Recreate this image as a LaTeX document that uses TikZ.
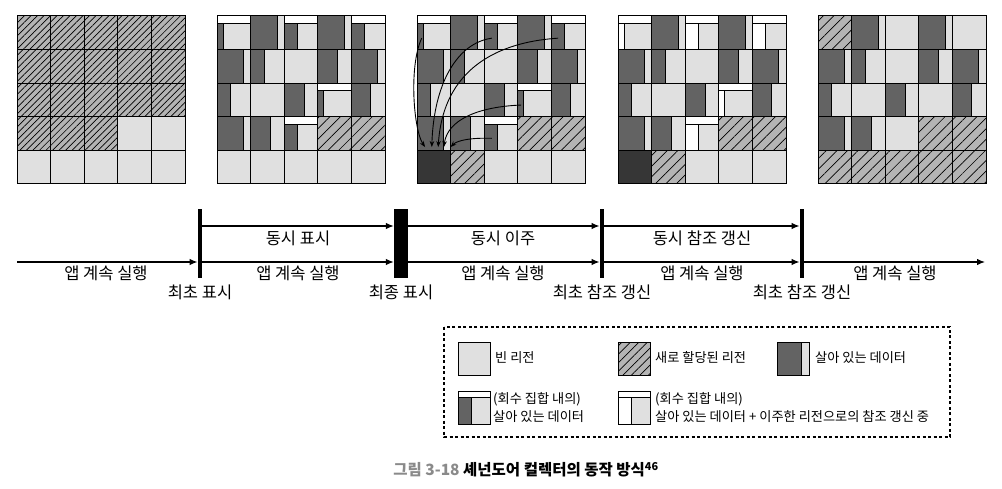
\documentclass[tikz,border=0pt]{standalone}
\usepackage{fontspec}
\setmainfont{Noto Sans CJK KR}
\usetikzlibrary{patterns.meta,arrows.meta,calc}

\definecolor{emptygray}{HTML}{E0E0E0}
\definecolor{livegray}{HTML}{636363}
\definecolor{hatchgray}{HTML}{B4B4B4}
\definecolor{destgray}{HTML}{363636}
\definecolor{capgray}{HTML}{8A8A8A}

\newcommand\hatchgap{7.5pt}
\newcommand\barh{0.23}
% one region: column, row (from top), share of live data
\newcommand\regE[2]{\draw[emptyreg] (#1-1,#2-1) rectangle (#1,#2);}
\newcommand\regN[2]{\draw[newreg] (#1-1,#2-1) rectangle (#1,#2);}
\newcommand\regD[2]{\draw[destreg] (#1-1,#2-1) rectangle (#1,#2);}
\newcommand\regL[3]{\regE{#1}{#2}\draw[livereg] (#1-1,#2-1) rectangle (#1-1+#3,#2);}
\newcommand\regC[3]{\regE{#1}{#2}\draw[csetbar] (#1-1,#2-1) rectangle (#1,#2-1+\barh);
    \draw[livereg] (#1-1,#2-1+\barh) rectangle (#1-1+#3,#2);}
\newcommand\regU[3]{\regE{#1}{#2}\draw[csetbar] (#1-1,#2-1) rectangle (#1,#2-1+\barh);
    \draw[csetbar] (#1-1,#2-1+\barh) rectangle (#1-1+#3,#2);}
% regions that stay the same in the last four heaps
\newcommand\commonregs{%
    \regL{2}{1}{.8}\regL{4}{1}{.8}
    \regL{1}{2}{.8}\regL{2}{2}{.4}\regE{3}{2}\regL{4}{2}{.6}\regL{5}{2}{.78}
    \regL{1}{3}{.4}\regE{2}{3}\regL{3}{3}{.6}\regL{5}{3}{.58}
    \regL{1}{4}{.8}\regL{2}{4}{.6}\regN{4}{4}\regN{5}{4}}

\begin{document}
\begin{tikzpicture}
        [x=1pt,y=-1pt,>={Latex[length=8pt,width=6.5pt]},
        emptyreg/.style={draw=black,line width=1pt,fill=emptygray},
        livereg/.style={draw=black,line width=1pt,fill=livegray},
        destreg/.style={draw=black,line width=1pt,fill=destgray},
        csetbar/.style={draw=black,line width=1pt,fill=white},
        newreg/.style={draw=black,line width=1pt,preaction={fill=hatchgray},
            pattern={Lines[angle=45,distance=\hatchgap,line width=.7pt]}},
        flow/.style={->,line width=1.2pt},
        movearrow/.style={-{Stealth[length=6pt,width=4.5pt]},line width=.9pt},
        phasebar/.style={fill=black,inner sep=0pt,minimum width=4.5pt,minimum height=69pt},
        lbl/.style={inner sep=0pt,font=\fontsize{16.5}{19}\selectfont},
        legend/.style={inner sep=0pt,anchor=west,align=left,font=\fontsize{13.2}{18}\selectfont}]

        \useasboundingbox (0,0) rectangle (1002,489);

        % heaps
        \begin{scope}[shift={(17,16)},x=33.6pt,y=-33.6pt]
            \renewcommand\hatchgap{4.6pt}
            \foreach \c in {1,...,5} {\regN{\c}{1}\regN{\c}{2}\regN{\c}{3}\regE{\c}{5}}
            \regN{1}{4}\regN{2}{4}\regN{3}{4}\regE{4}{4}\regE{5}{4}
        \end{scope}

        \begin{scope}[shift={(217,16)},x=33.6pt,y=-33.6pt]
            \commonregs
            \regC{1}{1}{.18}\regC{3}{1}{.4}\regC{5}{1}{.38}\regC{4}{3}{.18}\regC{3}{4}{.4}
            \foreach \c in {1,...,5} {\regE{\c}{5}}
        \end{scope}

        \begin{scope}[shift={(417,16)},x=33.6pt,y=-33.6pt]
            \commonregs
            \regC{1}{1}{.18}\regC{3}{1}{.4}\regC{5}{1}{.38}\regC{4}{3}{.18}\regC{3}{4}{.4}
            \regD{1}{5}\regN{2}{5}\regE{3}{5}\regE{4}{5}\regE{5}{5}
            \draw[movearrow] (0.14,0.66) .. controls (-0.25,1.5) and (-0.1,3.4) .. (0.24,3.9);
            \draw[movearrow] (2.23,0.66) .. controls (1.2,0.8) and (0.5,2.0) .. (0.44,3.9);
            \draw[movearrow] (4.2,0.66) .. controls (2.8,0.75) and (0.8,1.3) .. (0.63,3.9);
            \draw[movearrow] (3.1,2.65) .. controls (1.8,2.7) and (0.9,3.1) .. (0.8,3.9);
            \draw[movearrow] (2.23,3.64) .. controls (1.6,3.62) and (1.2,3.7) .. (1.0,3.9);
        \end{scope}

        \begin{scope}[shift={(618,16)},x=33.6pt,y=-33.6pt]
            \commonregs
            \regU{1}{1}{.18}\regU{3}{1}{.4}\regU{5}{1}{.38}\regU{4}{3}{.18}\regU{3}{4}{.4}
            \regD{1}{5}\regN{2}{5}\regE{3}{5}\regE{4}{5}\regE{5}{5}
        \end{scope}

        \begin{scope}[shift={(818,16)},x=33.6pt,y=-33.6pt]
            \commonregs
            \regN{1}{1}\regE{3}{1}\regE{5}{1}\regE{4}{3}\regE{3}{4}
            \foreach \c in {1,...,5} {\regN{\c}{5}}
        \end{scope}

        % timeline
        \coordinate (upper) at (0,226);
        \coordinate (lower) at (0,262);
        \coordinate (tstart) at (17,262);
        \coordinate (tend) at (985,262);
        \node[phasebar] (init) at (200,243.5) {};
        \node[phasebar,minimum width=14pt] (final) at (401,243.5) {};
        \node[phasebar] (ref1) at (602,243.5) {};
        \node[phasebar] (ref2) at (802,243.5) {};

        \draw[flow] (tstart) -- (init.west |- lower);
        \draw[flow] (init.east |- lower) -- (final.west |- lower);
        \draw[flow] (final.east |- lower) -- (ref1.west |- lower);
        \draw[flow] (ref1.east |- lower) -- (ref2.west |- lower);
        \draw[flow] (ref2.east |- lower) -- (tend);
        \draw[flow] (init.east |- upper) -- (final.west |- upper);
        \draw[flow] (final.east |- upper) -- (ref1.west |- upper);
        \draw[flow] (ref1.east |- upper) -- (ref2.west |- upper);

        \node[lbl] (mark1) at (298,238) {동시 표시};
        \node[lbl] (evac) at (503,238) {동시 이주};
        \node[lbl] (upref) at (702,238) {동시 참조 갱신};
        \node[lbl] (run1) at (106,273) {앱 계속 실행};
        \node[lbl] (run2) at (298,273) {앱 계속 실행};
        \node[lbl] (run3) at (503,273) {앱 계속 실행};
        \node[lbl] (run4) at (702,273) {앱 계속 실행};
        \node[lbl] (run5) at (895,273) {앱 계속 실행};
        \node[lbl] (initl) at (200,292) {최초 표시};
        \node[lbl] (finall) at (401,292) {최종 표시};
        \node[lbl] (ref1l) at (602,292) {최초 참조 갱신};
        \node[lbl] (ref2l) at (802,292) {최초 참조 갱신};

        % legend
        \draw[line width=1.1pt,dash pattern=on 3pt off 2.5pt] (444,327) rectangle (950,437);
        \begin{scope}[shift={(458,342)},x=32.5pt,y=-33pt]
            \regE{1}{1}
        \end{scope}
        \begin{scope}[shift={(618,342)},x=32.5pt,y=-33pt]
            \renewcommand\hatchgap{6pt}
            \regN{1}{1}
        \end{scope}
        \begin{scope}[shift={(777,342)},x=32.5pt,y=-33pt]
            \regL{1}{1}{.76}
        \end{scope}
        \begin{scope}[shift={(458,391)},x=32.5pt,y=-33pt]
            \renewcommand\barh{0.2}
            \regC{1}{1}{.42}
        \end{scope}
        \begin{scope}[shift={(618,391)},x=32.5pt,y=-33pt]
            \renewcommand\barh{0.2}
            \regU{1}{1}{.4}
        \end{scope}
        \node[legend] (keyempty) at (495,358) {빈 리전};
        \node[legend] (keynew) at (655,358) {새로 할당된 리전};
        \node[legend] (keylive) at (815,358) {살아 있는 데이터};
        \node[legend] (keycset) at (493,408) {(회수 집합 내의)\\살아 있는 데이터};
        \node[legend] (keyupd) at (655,408) {(회수 집합 내의)\\살아 있는 데이터 + 이주한 리전으로의 참조 갱신 중};

        % caption
        \node[inner sep=0pt,font=\bfseries\fontsize{15.5}{18}\selectfont] (caption) at (526,470)
            {{\color{capgray}그림 3-18} 셰넌도어 컬렉터의 동작 방식\textsuperscript{46}};

\end{tikzpicture}
\end{document}
